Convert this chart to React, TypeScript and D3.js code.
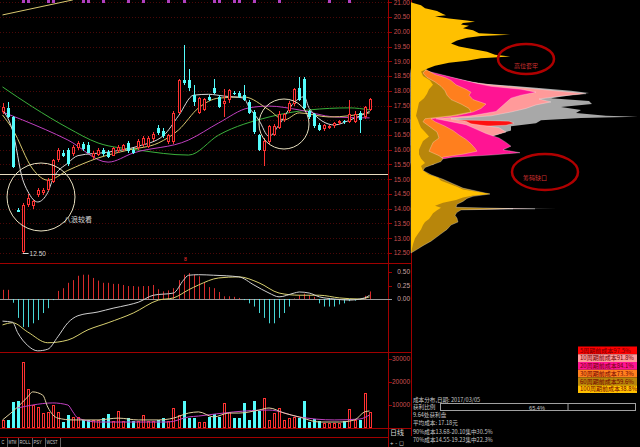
import React from "react";
import * as d3 from "d3";

type P = [number, number];

// Daily candles (price in yuan)
const opens = [17.28,17.40,17.10,13.95,12.55,14.13,14.08,14.45,14.52,14.65,14.92,15.65,15.90,15.98,15.85,16.05,16.20,16.16,15.75,15.82,16.00,15.92,15.80,15.95,16.00,16.23,15.98,16.05,16.15,16.10,16.35,16.75,16.62,16.25,16.25,17.25,18.36,18.36,17.86,17.25,17.35,17.79,18.09,17.79,17.55,17.69,17.94,17.92,17.86,17.62,17.28,16.50,15.95,16.25,16.50,16.75,17.00,17.30,17.55,18.10,18.40,17.30,17.20,16.85,16.72,16.78,16.80,16.90,16.98,16.95,16.95,17.25,17.10,17.35];
const highs = [17.60,17.62,17.15,14.02,14.18,14.50,14.30,14.72,14.70,15.05,15.70,16.05,16.00,16.05,16.15,16.28,16.25,16.25,15.95,16.05,16.05,15.98,16.10,16.15,16.20,16.30,16.05,16.38,16.45,16.45,16.60,16.85,16.75,16.55,17.30,18.40,19.55,18.74,18.19,17.80,17.75,17.85,18.40,17.85,18.05,18.05,18.00,17.98,18.20,17.70,17.35,16.55,16.40,16.85,16.86,17.30,17.25,17.65,18.10,18.45,18.45,17.35,17.25,16.90,16.88,16.85,16.95,17.00,17.02,17.70,17.30,17.30,17.50,17.75];
const lows = [17.20,17.08,15.38,13.88,12.50,14.05,14.00,14.40,14.45,14.60,14.88,15.60,15.76,15.45,15.80,15.98,15.95,15.88,15.70,15.78,15.80,15.72,15.78,15.90,15.95,15.90,15.85,16.00,16.10,16.05,16.30,16.50,16.40,16.20,16.20,17.20,18.20,18.00,17.50,17.20,17.30,17.65,17.88,17.40,17.10,17.60,17.85,17.76,17.65,17.20,16.55,15.95,15.45,16.20,16.45,16.70,16.95,17.25,17.50,17.65,17.35,17.05,16.75,16.62,16.65,16.72,16.75,16.85,16.88,16.90,16.90,16.58,17.05,17.30];
const closes = [17.45,17.12,15.42,13.88,14.13,14.36,14.25,14.62,14.64,14.97,15.65,15.98,15.80,15.52,16.09,16.23,16.02,15.90,15.90,15.98,15.86,15.76,16.05,16.10,16.16,15.95,15.89,16.30,16.40,16.40,16.55,16.57,16.48,16.50,17.25,18.36,18.27,18.09,17.62,17.76,17.72,17.69,17.92,17.45,17.65,18.03,17.90,17.79,17.69,17.25,16.60,16.00,16.30,16.80,16.82,17.20,17.20,17.60,18.05,17.70,17.40,17.10,16.80,16.67,16.84,16.82,16.90,16.96,16.94,17.22,17.20,17.02,17.45,17.72];

// Moving averages of close: [bar index, price]
const ma5: P[] = [[0,17.35],[2,16.65],[4,15.0],[5,14.6],[7,14.23],[9,14.55],[10,15.0],[13,15.55],[15,15.8],[21,15.92],[27,16.12],[32,16.48],[35,17.15],[38,17.85],[41,17.88],[44,17.82],[48,17.75],[49,17.45],[51,17.0],[53,16.45],[55,16.85],[58,17.6],[60,17.8],[61,17.4],[66,16.84],[69,17.0],[73,17.3]];
const ma10: P[] = [[0,17.18],[2,16.7],[6,15.35],[9,14.97],[13,15.3],[19,15.72],[25,15.99],[31,16.23],[35,16.67],[39,17.42],[43,17.75],[48,17.79],[53,17.35],[56,17.01],[59,17.25],[65,17.11],[73,17.25]];
const ma20: P[] = [[0,17.28],[4,17.01],[13,16.33],[21,15.58],[26,15.89],[37,16.33],[43,16.91],[49,17.42],[53,17.48],[59,17.35],[66,17.11],[73,17.08]];
const ma60: P[] = [[0,18.13],[6,17.45],[13,16.74],[19,16.23],[27,15.99],[37,15.82],[43,16.5],[53,17.11],[61,17.35],[69,17.42],[73,17.35]];
const longTrend: P[] = [[0,20.57],[14,21.08]];
const supportPrice = 15.18;
const lowBar = 4;
const lowPrice = 12.5;
const topMarks = [4,5,9,10,16,17,20,25,28,33,36,42,43,46,47,50,55,65,69];

// MACD
const macdHist = [0.17,0.17,-0.07,-0.35,-0.52,-0.52,-0.45,-0.39,-0.26,-0.17,-0.02,0.15,0.20,0.30,0.35,0.43,0.45,0.45,0.39,0.34,0.30,0.30,0.28,0.28,0.26,0.24,0.24,0.23,0.24,0.24,0.26,0.18,0.14,0.16,0.20,0.35,0.45,0.48,0.45,0.42,0.31,0.22,0.20,0.13,0.05,0.05,0.04,0.02,-0.02,-0.08,-0.14,-0.26,-0.35,-0.45,-0.45,-0.35,-0.26,-0.14,0.01,0.07,0.10,0.07,0.04,-0.08,-0.14,-0.14,-0.14,-0.10,-0.08,-0.04,-0.03,-0.01,0.06,0.14];
const dif: P[] = [[0,-0.41],[2,-0.43],[3,-0.62],[5,-0.86],[7,-0.96],[9,-0.93],[11,-0.70],[13,-0.44],[15,-0.31],[19,-0.24],[22,-0.17],[25,-0.11],[27,-0.06],[30,0.07],[34,0.11],[36,0.35],[37,0.44],[39,0.45],[42,0.44],[47,0.41],[50,0.26],[53,0.11],[55,0.04],[58,0.11],[59,0.13],[61,0.11],[63,0.04],[66,0.0],[69,-0.02],[72,0.02],[73,0.07]];
const dea: P[] = [[0,-0.48],[2,-0.44],[5,-0.61],[9,-0.81],[13,-0.76],[17,-0.57],[21,-0.44],[26,-0.26],[31,-0.02],[34,0.02],[37,0.17],[39,0.26],[43,0.39],[47,0.41],[51,0.30],[55,0.11],[59,0.07],[63,0.07],[67,0.02],[71,0.0],[73,0.04]];

// Volume (lots)
const volumes = [3500,3500,11300,11700,28700,17000,10000,9000,6500,7000,10000,7000,2600,5600,4800,4800,3500,3500,3500,3500,4300,6100,3000,7400,3000,4300,3000,3000,5600,3000,3000,3500,4300,3000,8700,5600,11700,4300,4300,2600,2600,4800,6100,4800,10900,7000,4300,4300,10900,3500,11700,7400,13000,3500,6500,8700,3500,4300,4800,4300,11700,2600,3900,3000,2200,2200,2200,2200,3000,8300,3500,3500,15200,7000];
const volMa5: P[] = [[0,3500],[3,9100],[5,13500],[6,15700],[8,14300],[9,9100],[11,4300],[14,3500],[19,3500],[23,4300],[27,3500],[31,3500],[34,4300],[37,6500],[39,7000],[42,4800],[45,6500],[47,6500],[51,7800],[53,8700],[56,6500],[59,4800],[63,2600],[67,2600],[70,3500],[72,7000],[73,7400]];
const volMa10: P[] = [[3,8700],[6,10000],[10,10900],[13,10000],[14,7000],[15,4300],[19,2600],[26,2600],[33,2600],[37,4800],[39,5200],[46,7000],[53,7800],[59,4800],[66,3500],[71,3900],[73,5700]];

const priceTicks = [21,20.5,20,19.5,19,18.5,18,17.5,17,16.5,16,15.5,15,14.5,14,13.5,13,12.5];
const macdTicks = [0.5,0.25,0];
const volTicks = [30000,20000,10000];

// Cost distribution: outer width of each age layer per price, [price, chip width]
const chipTotal: P[][] = [
  [[19.2,0],[19.16,102],[19.12,0]],
  [[18.55,22],[18.4,45],[18.25,70],[18.1,125],[18.0,160],[17.92,178],[17.85,160],[17.75,140],[17.65,178],[17.55,181],[17.45,150],[17.35,170],[17.25,165],[17.15,195],[17.12,227],[17.08,170],[17.0,130],[16.9,125],[16.8,100],[16.65,100],[16.5,85],[16.35,65],[16.2,50]],
  [[14.03,0],[14.0,146],[13.97,0]],
];
const chip5: P[][] = [
  [[17.02,40],[16.97,98],[16.9,103],[16.83,95],[16.78,60],[16.7,40]],
];
const chip10: P[][] = [
  [[18.6,20],[18.45,40],[18.3,60],[18.2,80],[18.08,120],[17.98,150],[17.9,175],[17.82,150],[17.72,128],[17.62,140],[17.52,125],[17.4,115],[17.28,100],[17.15,80],[17.05,40],[16.97,55],[16.88,60],[16.75,88],[16.6,95],[16.45,80],[16.3,55],[16.15,40]],
  [[14.04,0],[14.0,124],[13.96,0]],
];
const chip20: P[][] = [
  [[18.65,18],[18.5,36],[18.38,50],[18.25,66],[18.15,80],[18.05,110],[17.95,125],[17.85,110],[17.75,100],[17.6,95],[17.45,90],[17.3,85],[17.15,60],[17.05,25],[16.95,40],[16.85,55],[16.7,65],[16.55,75],[16.4,88],[16.25,95],[16.12,100],[16.0,92],[15.9,109],[15.82,80],[15.75,42],[15.68,30],[15.55,22]],
];
const chip30: P[][] = [
  [[18.7,16],[18.55,24],[18.45,34],[18.35,40],[18.2,45],[18.05,55],[17.95,60],[17.85,58],[17.7,62],[17.55,75],[17.4,70],[17.28,62],[17.15,45],[17.05,20],[16.95,24],[16.8,34],[16.65,42],[16.5,48],[16.35,55],[16.2,60],[16.05,64],[15.95,66],[15.85,52],[15.75,32],[15.65,28],[15.5,22]],
];
const chip60: P[][] = [
  [[18.75,16],[18.6,12],[18.45,16],[18.3,24],[18.15,30],[18.0,34],[17.85,36],[17.7,40],[17.55,50],[17.4,58],[17.28,60],[17.15,40],[17.05,14],[16.95,12],[16.8,18],[16.6,26],[16.4,28],[16.25,22],[16.1,20],[15.95,18],[15.8,28],[15.7,32],[15.6,30],[15.5,22],[15.4,14],[15.3,12],[15.15,20],[15.0,32],[14.85,42],[14.7,52],[14.55,72],[14.5,79],[14.42,62],[14.35,56],[14.25,52],[14.15,46],[14.05,45],[14.0,102],[13.96,50],[13.88,46],[13.78,44],[13.68,46],[13.55,47],[13.45,40],[13.3,36],[13.15,30],[13.0,24],[12.9,20],[12.75,12],[12.6,5],[12.5,0]],
];
const chip100: P[][] = [
  [[21.0,0],[20.97,3],[20.9,10],[20.8,14],[20.7,26],[20.6,32],[20.56,35],[20.52,24],[20.45,38],[20.38,56],[20.34,64],[20.3,52],[20.25,50],[20.2,58],[20.12,52],[20.05,62],[19.95,68],[19.9,99],[19.86,70],[19.8,56],[19.7,46],[19.6,40],[19.5,48],[19.42,60],[19.32,76],[19.22,84],[19.16,99],[19.1,70],[19.02,56],[18.95,38],[18.85,24],[18.75,16],[18.65,10],[18.5,12],[18.35,19],[18.2,22],[18.05,18],[17.9,16],[17.75,13],[17.6,8],[17.45,7],[17.3,6],[17.15,5],[17.0,7],[16.9,8],[16.75,10],[16.6,14],[16.45,18],[16.3,12],[16.15,10],[16.0,8],[15.85,8],[15.7,10],[15.55,14],[15.45,10],[15.3,12],[15.15,18],[15.05,27],[14.95,30],[14.85,38],[14.75,46],[14.65,52],[14.55,70],[14.5,79],[14.45,62],[14.38,52],[14.3,45],[14.2,32],[14.1,24],[14.03,30],[13.95,26],[13.85,22],[13.75,20],[13.65,18],[13.55,14],[13.45,12],[13.3,10],[13.15,7],[13.0,4],[12.8,2],[12.5,0]],
];

const legendLabels = ["5周期前成本97.5%","10周期前成本91.8%","20周期前成本84.1%","30周期前成本73.3%","60周期前成本59.6%","100周期前成本38.8%"];
const infoLines = ["成本分布,日期: 2017/03/05","获利比例","9.64处获利盘","平均成本: 17.18元","90%成本13.68-20.10集中30.5%","70%成本14.55-19.23集中22.3%"];
const profitRatio = 0.654;
const tabs = ["C","MTM","ROLL","PSY","WCST"];

const RED = "#ff3232";
const CYAN = "#54fcfc";
const FRAME = "#a00000";
const AXIS_TXT = "#c85050";
const NUM_FONT = "'Liberation Sans', Arial, sans-serif";
const CJK_FONT = "'Noto Sans CJK SC', sans-serif";

export default function App() {
  const n = closes.length;
  const idx = d3.range(n);
  const xLine = d3.scaleLinear().domain([0, n - 1]).range([2.5, 369.6]);
  const yP = d3.scaleLinear().domain([12.5, 21]).range([253, 2.25]);
  const yM = d3.scaleLinear().domain([0, 0.5]).range([299, 272]);
  const yV = d3.scaleLinear().domain([0, 30000]).range([428, 359]);
  const chipX = d3.scaleLinear().domain([0, 229]).range([411, 640]);

  const px = (i: number) => Math.round(xLine(i)) - 1; // left pixel of a bar

  const priceLine = d3.line<P>().x(d => xLine(d[0])).y(d => yP(d[1])).curve(d3.curveMonotoneX);
  const macdLine = d3.line<P>().x(d => xLine(d[0])).y(d => yM(d[1])).curve(d3.curveMonotoneX);
  const volLine = d3.line<P>().x(d => xLine(d[0])).y(d => yV(d[1])).curve(d3.curveMonotoneX);
  const chipArea = d3.area<P>().y(d => yP(d[0])).x0(chipX(0)).x1(d => chipX(d[1])).curve(d3.curveLinear);

  const chipLayers: { segs: P[][]; fill: string; edge: boolean }[] = [
    { segs: chipTotal, fill: "#a8a8a8", edge: false },
    { segs: chip5, fill: "#ff1010", edge: true },
    { segs: chip10, fill: "#ff9a9a", edge: true },
    { segs: chip20, fill: "#ff1493", edge: true },
    { segs: chip30, fill: "#ff7f1e", edge: true },
    { segs: chip60, fill: "#b8860b", edge: true },
    { segs: chip100, fill: "#ffc000", edge: false },
  ];
  const legendFills = ["#ff0000", "#ff9a9a", "#ff1493", "#ff7f1e", "#b8860b", "#ffc000"];
  const tabEdges = [0, 7, 18, 32, 45, 60];

  const up = (i: number) => closes[i] >= opens[i];

  return (
    <svg width={640} height={447} style={{ position: "absolute", left: 0, top: 0, display: "block" }}>
      <rect x={0} y={0} width={640} height={447} fill="#000" />

      {/* price grid */}
      {priceTicks.map(t => (
        <line key={"g" + t} x1={0} x2={388} y1={Math.round(yP(t)) + 0.5} y2={Math.round(yP(t)) + 0.5}
          stroke="#4a0808" strokeDasharray="1,2" />
      ))}

      {/* top markers */}
      {topMarks.map(i => (
        <rect key={"tm" + i} x={px(i)} y={0} width={3} height={3} fill="#b040c0" />
      ))}

      {/* moving averages */}
      <path d={priceLine(ma60) ?? ""} fill="none" stroke="#3cb03c" strokeWidth={1} />
      <path d={priceLine(ma20) ?? ""} fill="none" stroke="#c040c0" strokeWidth={1} />
      <path d={priceLine(ma10) ?? ""} fill="none" stroke="#d8c870" strokeWidth={1} />
      <path d={priceLine(ma5) ?? ""} fill="none" stroke="#d8d8d8" strokeWidth={1} />
      <path d={priceLine(longTrend) ?? ""} fill="none" stroke="#d8c870" strokeWidth={1} />

      {/* candles */}
      {idx.map(i => {
        const a = px(i);
        const col = up(i) ? RED : CYAN;
        const yt = Math.round(yP(Math.max(opens[i], closes[i])));
        const yb = Math.max(yt + 1, Math.round(yP(Math.min(opens[i], closes[i]))));
        return (
          <g key={"c" + i} shapeRendering="crispEdges">
            <line x1={a + 1.5} x2={a + 1.5} y1={yP(highs[i])} y2={yP(lows[i])} stroke={col} />
            {up(i) ? (
              <rect x={a + 0.5} y={yt + 0.5} width={2} height={Math.max(0.5, yb - yt - 1)} fill="#000" stroke={col} />
            ) : (
              <rect x={a} y={yt} width={3} height={yb - yt} fill={col} />
            )}
          </g>
        );
      })}

      {/* support level and annotations */}
      <line x1={0} x2={388} y1={Math.round(yP(supportPrice)) + 0.5} y2={Math.round(yP(supportPrice)) + 0.5} stroke="#e8dcc0" />
      <circle cx={41} cy={197} r={34} fill="none" stroke="#e8e0c0" strokeWidth={1} />
      <circle cx={284} cy={124} r={25} fill="none" stroke="#e8e0c0" strokeWidth={1} />
      <text x={64} y={222} fill="#d8d8d8" fontSize={7} fontFamily={CJK_FONT}>八浪较看</text>
      <line x1={xLine(lowBar)} x2={xLine(lowBar) + 6} y1={yP(lowPrice) + 0.5} y2={yP(lowPrice) + 0.5} stroke="#d8d8d8" />
      <text x={xLine(lowBar) + 7} y={yP(lowPrice) + 2.5} fill="#d8d8d8" fontSize={6.5} fontFamily={NUM_FONT}>{lowPrice.toFixed(2)}</text>
      <text x={184} y={261} fill={RED} fontSize={5} fontFamily={NUM_FONT}>8</text>

      {/* MACD */}
      <line x1={0} x2={388} y1={yM(0) + 0.5} y2={yM(0) + 0.5} stroke="#9a9a9a" />
      {idx.map(i => (
        <line key={"m" + i} x1={px(i) + 1.5} x2={px(i) + 1.5} y1={yM(0)} y2={yM(macdHist[i])}
          stroke={macdHist[i] >= 0 ? RED : CYAN} strokeOpacity={0.85} />
      ))}
      <path d={macdLine(dea) ?? ""} fill="none" stroke="#d8d070" strokeWidth={1} />
      <path d={macdLine(dif) ?? ""} fill="none" stroke="#d0d0d0" strokeWidth={1} />

      {/* volume */}
      {idx.map(i => {
        const a = px(i);
        const yt = Math.round(yV(volumes[i]));
        return up(i) ? (
          <rect key={"v" + i} x={a + 0.5} y={yt + 0.5} width={2} height={428 - yt - 1} fill="#000" stroke={RED} shapeRendering="crispEdges" />
        ) : (
          <rect key={"v" + i} x={a} y={yt} width={3} height={428 - yt} fill={CYAN} shapeRendering="crispEdges" />
        );
      })}
      <path d={volLine(volMa10) ?? ""} fill="none" stroke="#c040c0" strokeWidth={1} />
      <path d={volLine(volMa5) ?? ""} fill="none" stroke="#e0d0a0" strokeWidth={1} />

      {/* frame */}
      <g stroke={FRAME} shapeRendering="crispEdges">
        <line x1={0} x2={411} y1={263.5} y2={263.5} />
        <line x1={0} x2={411} y1={352.5} y2={352.5} />
        <line x1={0} x2={411} y1={428.5} y2={428.5} />
        <line x1={0} x2={388} y1={437.5} y2={437.5} />
        <line x1={388.5} x2={388.5} y1={0} y2={447} />
        <line x1={411.5} x2={411.5} y1={0} y2={436} />
      </g>

      {/* axes labels */}
      {priceTicks.map(t => (
        <g key={"pt" + t}>
          <line x1={388} x2={392} y1={Math.round(yP(t)) + 0.5} y2={Math.round(yP(t)) + 0.5} stroke={FRAME} />
          <text x={410} y={yP(t) + 2.3} textAnchor="end" fill={AXIS_TXT} fontSize={6.5} fontFamily={NUM_FONT}>{t.toFixed(2)}</text>
        </g>
      ))}
      {macdTicks.map(t => (
        <g key={"mt" + t}>
          <line x1={388} x2={392} y1={Math.round(yM(t)) + 0.5} y2={Math.round(yM(t)) + 0.5} stroke={t === 0 ? "#9a9a9a" : FRAME} />
          <text x={410} y={yM(t) + 2.3} textAnchor="end" fill="#c8a0a0" fontSize={6.5} fontFamily={NUM_FONT}>{t.toFixed(2)}</text>
        </g>
      ))}
      {volTicks.map(t => (
        <g key={"vt" + t}>
          <line x1={388} x2={392} y1={Math.round(yV(t)) + 0.5} y2={Math.round(yV(t)) + 0.5} stroke={FRAME} />
          <text x={410} y={yV(t) + 2.3} textAnchor="end" fill={AXIS_TXT} fontSize={6.5} fontFamily={NUM_FONT}>{t}</text>
        </g>
      ))}

      {/* bottom tabs */}
      {tabs.map((t, k) => {
        const x0 = tabEdges[k], x1 = tabEdges[k + 1];
        const w = x1 - x0;
        return (
          <g key={"tab" + t}>
            <text x={x0 + 1.5} y={444} fill="#c8c8c8" fontSize={5.5} fontFamily={NUM_FONT}
              textLength={Math.min(w - 3, t.length * 2.8)} lengthAdjust="spacingAndGlyphs">{t}</text>
            <line x1={x1 + 0.5} x2={x1 + 0.5} y1={438} y2={447} stroke="#606060" />
          </g>
        );
      })}
      <text x={397} y={435} textAnchor="middle" fill="#d8d8d8" fontSize={7} fontFamily={CJK_FONT}>日线</text>
      <text x={397} y={445} textAnchor="middle" fill="#d8d8d8" fontSize={6} fontFamily={NUM_FONT}>+  -  ◻</text>

      {/* cost distribution */}
      {chipLayers.map((L, k) => (
        <g key={"layer" + k}>
          {L.segs.map((s, j) => (
            <path key={j} d={chipArea(s) ?? ""} fill={L.fill}
              stroke={L.edge ? "#ffffff" : "none"} strokeOpacity={0.55} strokeWidth={0.5} />
          ))}
        </g>
      ))}

      {/* annotations on distribution */}
      <ellipse cx={526} cy={59} rx={28} ry={15} fill="none" stroke="#b00000" strokeWidth={2.5} />
      <text x={526} y={68} textAnchor="middle" fill="#d03030" fontSize={6} fontFamily={CJK_FONT}>高位套牢</text>
      <ellipse cx={545} cy={172} rx={33} ry={18} fill="none" stroke="#b00000" strokeWidth={2.5} />
      <text x={535} y={180} textAnchor="middle" fill="#d03030" fontSize={6} fontFamily={CJK_FONT}>筹码缺口</text>

      {/* legend */}
      {legendLabels.map((lab, k) => (
        <g key={"lg" + k}>
          <rect x={578} y={346.5 + k * 7.75} width={59} height={7.75} fill={legendFills[k]} />
          <text x={580} y={352.5 + k * 7.75} fill="#700000" fontSize={6} fontFamily={CJK_FONT}>{lab}</text>
        </g>
      ))}

      {/* info lines */}
      {infoLines.map((s, k) => (
        <text key={"info" + k} x={413} y={[402, 409, 417, 425, 434, 442][k]} fill="#c8c8c8" fontSize={5.6} fontFamily={CJK_FONT}>{s}</text>
      ))}
      <rect x={440.5} y={403.5} width={195} height={7} fill="none" stroke="#a0a0a0" />
      <line x1={440 + 195 * profitRatio + 0.5} x2={440 + 195 * profitRatio + 0.5} y1={404} y2={411} stroke="#a0a0a0" />
      <text x={537} y={409.5} textAnchor="middle" fill="#c8c8c8" fontSize={5.6} fontFamily={NUM_FONT}>{(profitRatio * 100).toFixed(1)}%</text>
    </svg>
  );
}
